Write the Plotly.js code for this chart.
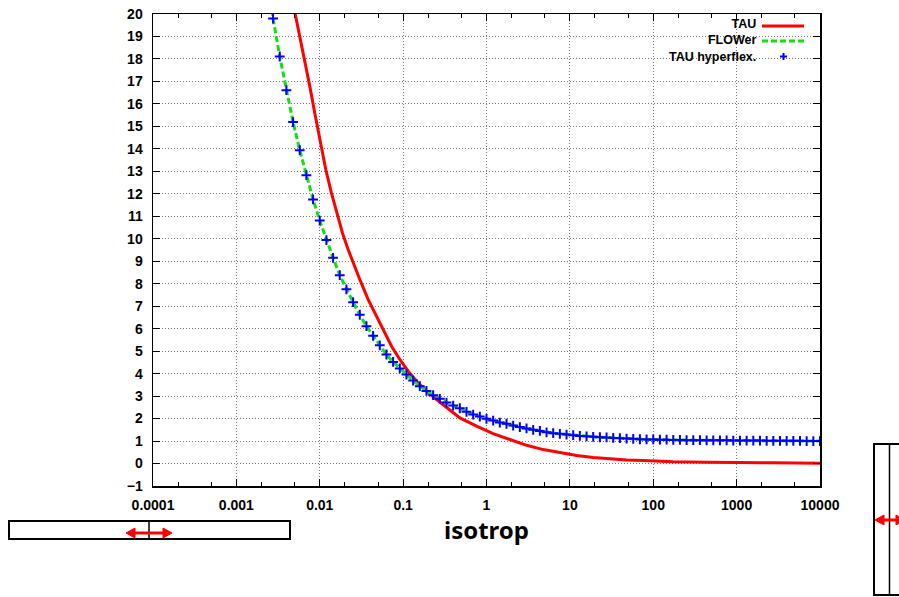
<!DOCTYPE html>
<html>
<head>
<meta charset="utf-8">
<script src="https://cdn.plot.ly/plotly-3.0.1.min.js"></script>
<style>html,body{margin:0;padding:0;background:#fff;}#chart{width:899px;height:597px;}</style>
</head>
<body>
<div id="chart"></div>
<script>
// ---- data ----
const hyperX = [0.002754,0.003311,0.003981,0.004786,0.005754,0.006918,0.008318,0.01,0.01202,0.01445,
  0.01738,0.02089,0.02512,0.0302,0.03631,0.04365,0.05248,0.0631,0.07586,0.0912,
  0.1096,0.1318,0.1585,0.1905,0.2291,0.2754,0.3311,0.3981,0.4786,0.5754,
  0.6918,0.8318,1.0,1.202,1.445,1.738,2.089,2.512,3.02,3.631,
  4.365,5.248,6.31,7.586,9.12,10.96,13.18,15.85,19.05,22.91,
  27.54,33.11,39.81,47.86,57.54,69.18,83.18,100,120.2,144.5,
  173.8,208.9,251.2,302,363.1,436.5,524.8,631,758.6,912,
  1096,1318,1585,1905,2291,2754,3311,3981,4786,5754,
  6918,8318,10000];
const hyperY = [19.80,18.11,16.61,15.19,13.94,12.83,11.75,10.81,9.94,9.15,
  8.38,7.75,7.18,6.62,6.11,5.68,5.26,4.85,4.52,4.23,
  3.96,3.69,3.44,3.23,3.04,2.88,2.71,2.58,2.46,2.30,
  2.18,2.09,1.99,1.91,1.82,1.77,1.69,1.62,1.56,1.50,
  1.45,1.39,1.35,1.32,1.29,1.26,1.23,1.21,1.19,1.17,
  1.16,1.14,1.13,1.11,1.10,1.08,1.07,1.07,1.06,1.06,
  1.05,1.05,1.04,1.04,1.04,1.03,1.03,1.03,1.03,1.02,
  1.02,1.02,1.02,1.02,1.01,1.01,1.01,1.01,1.01,1.01,
  1.00,1.00,1.00];
const flowerX = [0.00268,0.002754,0.003311,0.003981,0.004786,0.005754,0.006918,0.008318,0.01,0.01202,0.01445,
  0.01738,0.02089,0.02512,0.0302,0.03631,0.04365,0.05248,0.0631,0.07586,0.0912,
  0.1096,0.1318,0.1585,0.1905,0.2291,0.2754,0.3311,0.3981,0.4786,0.5754,
  0.6918,0.8318,1.0,1.202,1.445,1.738,2.089,2.512,3.02,3.631,
  4.365,5.248,6.31,7.586,9.12,10.96,13.18,15.85,19.05,22.91,
  27.54,33.11,39.81,47.86,57.54,69.18,83.18,100,120.2,144.5,
  173.8,208.9,251.2,302,363.1,436.5,524.8,631,758.6,912,
  1096,1318,1585,1905,2291,2754,3311,3981,4786,5754,
  6918,8318,10000];
const flowerY = [20.2,19.80,18.11,16.61,15.19,13.94,12.83,11.75,10.81,9.94,9.15,
  8.38,7.75,7.18,6.62,6.11,5.68,5.26,4.85,4.52,4.23,
  3.96,3.69,3.44,3.23,3.04,2.88,2.71,2.58,2.46,2.30,
  2.18,2.09,1.99,1.91,1.82,1.77,1.69,1.62,1.56,1.50,
  1.45,1.39,1.35,1.32,1.29,1.26,1.23,1.21,1.19,1.17,
  1.16,1.14,1.13,1.11,1.10,1.08,1.07,1.07,1.06,1.06,
  1.05,1.05,1.04,1.04,1.04,1.03,1.03,1.03,1.03,1.02,
  1.02,1.02,1.02,1.02,1.01,1.01,1.01,1.01,1.01,1.01,
  1.00,1.00,1.00];
const tauX = [0.00495,0.00575,0.00661,0.00759,0.00871,0.0105,0.0118,0.0138,0.0159,0.0187,
  0.0219,0.0263,0.0302,0.038,0.048,0.0575,0.0726,0.0912,0.1148,0.145,
  0.191,0.252,0.347,0.48,0.76,1.2,1.91,3.03,4.79,7.6,
  12.05,19.05,30.3,48,75.9,120.5,174,437,1097,2735,10000];
const tauY = [20.2,19.01,17.97,16.79,15.60,13.97,13.08,12.04,11.15,10.26,
  9.52,8.71,8.19,7.30,6.55,5.96,5.22,4.63,4.11,3.66,
  3.22,2.85,2.43,2.03,1.66,1.33,1.07,0.81,0.62,0.48,
  0.36,0.27,0.21,0.16,0.13,0.10,0.08,0.06,0.03,0.03,0.01];
const seriesNames = ["TAU", "FLOWer", "TAU hyperflex."];
const xTickVals = [0.0001,0.001,0.01,0.1,1,10,100,1000,10000];
const xTickText = ["0.0001","0.001","0.01","0.1","1","10","100","1000","10000"];
const xTitle = "isotrop";

// ---- layout helpers (pixel -> paper) ----
const L = 153, R = 820, T = 14, B = 486;
const px = v => (v - L) / (R - L);
const py = v => (B - v) / (B - T);

const traces = [
  {x: tauX, y: tauY, type: 'scatter', mode: 'lines', name: seriesNames[0],
   line: {color: '#ff0000', width: 3}, showlegend: false},
  {x: flowerX, y: flowerY, type: 'scatter', mode: 'lines', name: seriesNames[1],
   line: {color: '#11e011', width: 3, dash: '6px,3px'}, showlegend: false},
  {x: hyperX, y: hyperY, type: 'scatter', mode: 'markers', name: seriesNames[2],
   marker: {symbol: 'cross-thin', size: 7, line: {color: '#0000ff', width: 2}, color: '#0000ff'},
   showlegend: false}
];

const tickFont = {family: 'Liberation Sans, Arial, sans-serif', size: 14, color: '#000', weight: 'bold'};

function tri(x0, y0, dir, len, half) {
  const xb = x0 - dir * len;
  return 'M ' + px(x0) + ',' + py(y0) + ' L ' + px(xb) + ',' + py(y0 - half) + ' L ' + px(xb) + ',' + py(y0 + half) + ' Z';
}

const shapes = [
  // legend samples
  {type: 'line', xref: 'paper', yref: 'paper', x0: px(762), x1: px(804), y0: py(26), y1: py(26), line: {color: '#ff0000', width: 3}},
  {type: 'line', xref: 'paper', yref: 'paper', x0: px(762), x1: px(804), y0: py(41), y1: py(41), line: {color: '#11e011', width: 3, dash: '6px,3px'}},
  {type: 'path', xref: 'paper', yref: 'paper', path: 'M ' + px(780) + ',' + py(56.5) + ' L ' + px(787) + ',' + py(56.5) + ' M ' + px(783.5) + ',' + py(53) + ' L ' + px(783.5) + ',' + py(60), line: {color: '#0000ff', width: 2}},
  // bottom-left slider box
  {type: 'rect', xref: 'paper', yref: 'paper', x0: px(9), x1: px(290), y0: py(521), y1: py(539), line: {color: '#000', width: 2}, fillcolor: 'rgba(0,0,0,0)'},
  {type: 'line', xref: 'paper', yref: 'paper', x0: px(149), x1: px(149), y0: py(521), y1: py(539), line: {color: '#000', width: 1.5}},
  {type: 'line', xref: 'paper', yref: 'paper', x0: px(133), x1: px(165), y0: py(533), y1: py(533), line: {color: '#ff0000', width: 3}},
  {type: 'path', xref: 'paper', yref: 'paper', path: tri(126, 533, -1, 9, 5), fillcolor: '#ff0000', line: {color: '#ff0000', width: 1}},
  {type: 'path', xref: 'paper', yref: 'paper', path: tri(172, 533, 1, 9, 5), fillcolor: '#ff0000', line: {color: '#ff0000', width: 1}},
  // right slider box
  {type: 'rect', xref: 'paper', yref: 'paper', x0: px(874), x1: px(910), y0: py(444), y1: py(595), line: {color: '#000', width: 2}, fillcolor: 'rgba(0,0,0,0)'},
  {type: 'line', xref: 'paper', yref: 'paper', x0: px(889.5), x1: px(889.5), y0: py(444), y1: py(595), line: {color: '#000', width: 1.5}},
  {type: 'line', xref: 'paper', yref: 'paper', x0: px(882), x1: px(897), y0: py(520), y1: py(520), line: {color: '#ff0000', width: 3}},
  {type: 'path', xref: 'paper', yref: 'paper', path: tri(875, 520, -1, 9, 5), fillcolor: '#ff0000', line: {color: '#ff0000', width: 1}},
  {type: 'path', xref: 'paper', yref: 'paper', path: tri(905, 520, 1, 9, 5), fillcolor: '#ff0000', line: {color: '#ff0000', width: 1}}
];

const legFont = {family: 'Liberation Sans, Arial, sans-serif', size: 12.5, color: '#000', weight: 'bold'};
const annotations = [
  {xref: 'paper', yref: 'paper', x: px(757), y: py(41), xanchor: 'right', yanchor: 'middle', align: 'right',
   text: seriesNames.join('<br>'), showarrow: false, font: legFont, borderpad: 0}
];

const layout = {
  width: 899, height: 597,
  margin: {l: L, r: 899 - R, t: T, b: 597 - B, pad: 0},
  paper_bgcolor: '#fff', plot_bgcolor: '#fff',
  showlegend: false,
  xaxis: {
    type: 'log', range: [-4, 4], autorange: false,
    tickvals: xTickVals, ticktext: xTickText,
    ticks: 'inside', ticklen: 7, tickwidth: 1, tickcolor: '#000',
    minor: {dtick: 'D2', ticks: 'inside', ticklen: 4, tickcolor: '#000', showgrid: false},
    showline: true, linecolor: '#000', linewidth: 1.5, mirror: 'ticks',
    showgrid: true, gridcolor: '#777', griddash: '1px,2px', gridwidth: 1,
    zeroline: false, tickfont: tickFont, ticklabelstandoff: 6,
    title: {text: xTitle, font: {family: 'Noto Sans, sans-serif', size: 24, color: '#000', weight: 'bold'}, standoff: 0}
  },
  yaxis: {
    range: [-1, 20], autorange: false, dtick: 1, tick0: 0,
    ticks: 'inside', ticklen: 7, tickwidth: 1, tickcolor: '#000',
    showline: true, linecolor: '#000', linewidth: 1.5, mirror: 'ticks',
    showgrid: true, gridcolor: '#777', griddash: '1px,2px', gridwidth: 1,
    zeroline: false, tickfont: tickFont, ticklabelstandoff: 6
  },
  shapes: shapes,
  annotations: annotations
};

Plotly.newPlot('chart', traces, layout, {displayModeBar: false, staticPlot: true});
</script>
</body>
</html>
